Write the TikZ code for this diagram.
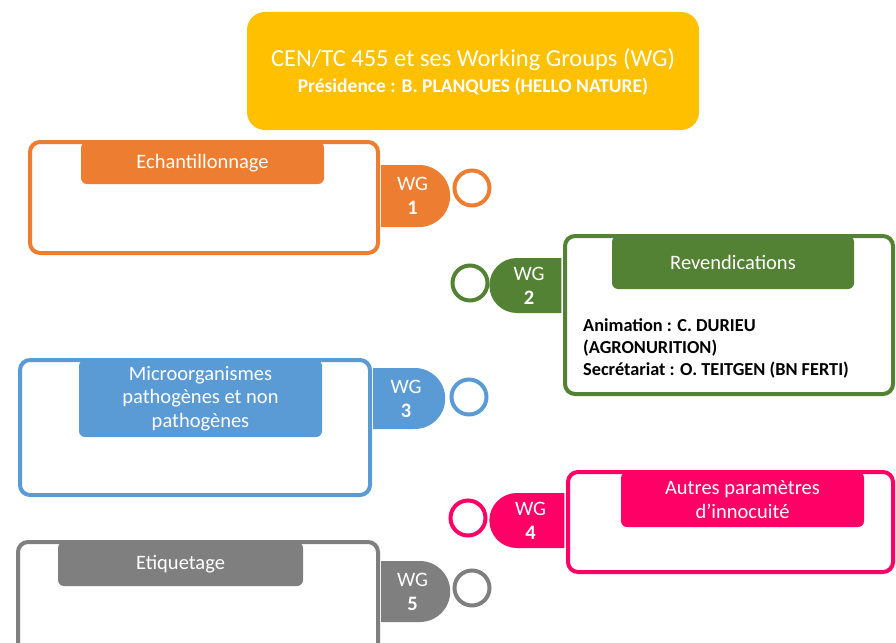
\documentclass[tikz,border=0pt]{standalone}
\usepackage{fontspec}
\setmainfont{Carlito}
\usepackage{tikz}
\usetikzlibrary{positioning, shapes.misc}
\definecolor{wgyellow}{HTML}{FFC000}
\definecolor{wgorange}{HTML}{ED7D31}
\definecolor{wggreen}{HTML}{548235}
\definecolor{wgblue}{HTML}{5B9BD5}
\definecolor{wgpink}{HTML}{FF0066}
\definecolor{wggray}{HTML}{7F7F7F}

\begin{document}
\begin{tikzpicture}
        [x=1pt, y=-1pt,
         groupbox/.style={draw, fill=white, rounded corners=10pt, line width=4pt, inner sep=0pt},
         headtab/.style={rounded corners=6pt, inner sep=0pt, text=white, align=center, font=\fontsize{20.5}{23.5}\selectfont},
         wgtab/.style={rounded rectangle, inner sep=0pt, text=white, align=center, font=\fontsize{20.5}{24}\selectfont},
         ring/.style={circle, draw, line width=4pt, minimum size=35pt, inner sep=0pt}]
        \clip (0,0) rectangle (896,642);
        \fill[white] (0,0) rectangle (896,642);

        \node[fill=wgyellow, rounded corners=18pt, minimum width=452pt, minimum height=118pt] (title) at (473,71) {};
        \node[text=white, inner sep=0pt, font=\fontsize{24.5}{28}\selectfont] (titlea) at (473,60) {CEN/TC 455 et ses Working Groups (WG)};
        \node[text=white, inner sep=0pt, font=\fontsize{19.5}{23}\selectfont\bfseries] (titleb) at (473,87) {Présidence : B. PLANQUES (HELLO NATURE)};

        % WG 1
        \node[wgtab, rounded rectangle west arc=none, fill=wgorange, minimum width=69pt, minimum height=62pt] (wg1) at (412.5,196) {WG\\\textbf{1}};
        \node[groupbox, draw=wgorange, minimum width=348pt, minimum height=111pt] (box1) at (204,197.5) {};
        \node[headtab, fill=wgorange, minimum width=243pt, minimum height=42pt] (tab1) at (202.5,163) {Echantillonnage};
        \node[ring, draw=wgorange] (ring1) at (472,188) {};

        % WG 2
        \node[wgtab, rounded rectangle east arc=none, fill=wggreen, minimum width=72pt, minimum height=55pt] (wg2) at (529,285.5) {WG\\\textbf{2}};
        \node[groupbox, draw=wggreen, minimum width=328pt, minimum height=158pt] (box2) at (729,315) {};
        \node[headtab, fill=wggreen, minimum width=242pt, minimum height=53pt] (tab2) at (733,262.5) {Revendications};
        \node[ring, draw=wggreen] (ring2) at (470,283) {};
        \node[anchor=west, align=left, inner sep=0pt, font=\fontsize{18.3}{22}\selectfont\bfseries] (anim2) at (583,348)
            {Animation : C. DURIEU\\(AGRONURITION)\\Secrétariat : O. TEITGEN (BN FERTI)};

        % WG 3
        \node[wgtab, rounded rectangle west arc=none, fill=wgblue, minimum width=72pt, minimum height=61pt] (wg3) at (406,398.5) {WG\\\textbf{3}};
        \node[groupbox, draw=wgblue, minimum width=350pt, minimum height=135pt] (box3) at (195,427.5) {};
        \node[headtab, fill=wgblue, minimum width=243pt, minimum height=77pt] (tab3) at (200.5,398.5) {Microorganismes\\pathogènes et non\\pathogènes};
        \node[ring, draw=wgblue] (ring3) at (469,397) {};

        % WG 4
        \node[wgtab, rounded rectangle east arc=none, fill=wgpink, minimum width=75pt, minimum height=55pt] (wg4) at (530.5,520.5) {WG\\\textbf{4}};
        \node[groupbox, draw=wgpink, minimum width=325pt, minimum height=100pt] (box4) at (730.5,522) {};
        \node[headtab, fill=wgpink, minimum width=243pt, minimum height=55pt] (tab4) at (742.5,499.5) {Autres paramètres\\d’innocuité};
        \node[ring, draw=wgpink] (ring4) at (468,518) {};

        % WG 5
        \node[wgtab, rounded rectangle west arc=none, fill=wggray, minimum width=69pt, minimum height=61pt] (wg5) at (412.5,591.5) {WG\\\textbf{5}};
        \node[groupbox, draw=wggray, minimum width=360pt, minimum height=138pt] (box5) at (198,611) {};
        \node[headtab, fill=wggray, minimum width=245pt, minimum height=44pt] (tab5) at (180.5,564) {Etiquetage};
        \node[ring, draw=wggray] (ring5) at (472,588) {};
    \end{tikzpicture}
\end{document}
